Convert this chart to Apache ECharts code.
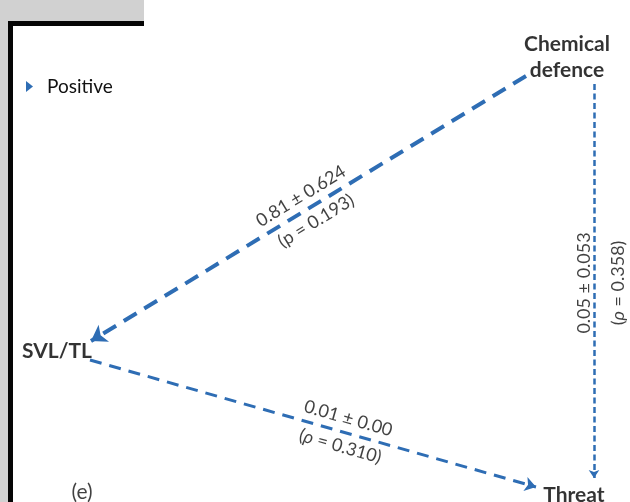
<!DOCTYPE html>
<html>
<head>
<meta charset="utf-8">
<script src="https://cdn.jsdelivr.net/npm/echarts@6/dist/echarts.min.js"></script>
<style>
html, body { margin: 0; padding: 0; background: #fff; }
#chart { width: 630px; height: 502px; }
</style>
</head>
<body>
<div id="chart"></div>
<script>
// nodes of the path diagram (text centres, data space = 630 x 502)
const nodeNames = ['Chemical\ndefence', 'SVL/TL', 'Threat'];
const nodeX = [567, 57, 574];
const nodeY = [57, 351, 495];

// arrows: start / end points
const edgeFromX = [526, 90, 594];
const edgeFromY = [76, 360, 84];
const edgeToX = [91, 536, 594];
const edgeToY = [341, 487, 478];

// path coefficients and p values
const edgeCoef = ['0.81 ± 0.624', '0.01 ± 0.00', '0.05 ± 0.053'];
const edgePSym = ['p', 'ρ', 'ρ'];
const edgeP = ['0.193', '0.310', '0.358'];
const edgeLabelAt = [0.5, 0.57, 0.505]; // fraction along each arrow
const edgeLabelShift = [0, 0, 7];        // sideways nudge, px
const edgeLabelGap = [29, 29, 34];       // line spacing of the two text rows

const panelTag = '(e)';
const panelTagPos = [82, 492];

const BLUE = '#2e6db4';
const FONT = 'Lato';
const TEXT = '#111';

// line styles per arrow, thick -> thin
const edgeWidth = [4, 3, 2.5];
const edgeDash = [[15, 9], [12, 8], [6, 3.5]];
const edgeArrow = [15, 11, 8];

const chart = echarts.init(document.getElementById('chart'), null, { renderer: 'canvas' });

const edgeData = edgeCoef.map((_, i) => ({
	coords: [[edgeFromX[i], edgeFromY[i]], [edgeToX[i], edgeToY[i]]],
	symbolSize: [0, edgeArrow[i]],
	lineStyle: { width: edgeWidth[i], type: edgeDash[i], color: BLUE, opacity: 1 },
}));

// rotation of each label follows its arrow, kept readable
const labelData = edgeCoef.map((c, i) => {
	const t = edgeLabelAt[i];
	const dx = edgeToX[i] - edgeFromX[i];
	const dy = edgeToY[i] - edgeFromY[i];
	const len = Math.hypot(dx, dy);
	const x = edgeFromX[i] + dx * t + Math.abs(dy / len) * edgeLabelShift[i];
	const y = edgeFromY[i] + dy * t;
	let rot = Math.atan2(-dy, dx) * 180 / Math.PI;
	if (rot <= -90) rot += 180;
	if (rot > 90) rot -= 180;
	const pStyle = edgePSym[i] === 'ρ' ? 'i' : 'b';
	const lh = edgeLabelGap[i];
	return {
		value: [x, y],
		label: {
			rotate: rot,
			formatter: `{a|${c}}\n{b|(}{${pStyle}|${edgePSym[i]}}{b| = ${edgeP[i]})}`,
			rich: {
				a: { fontFamily: FONT, fontSize: 18, color: TEXT, lineHeight: lh },
				b: { fontFamily: FONT, fontSize: 18, color: TEXT, lineHeight: lh },
				i: { fontFamily: FONT, fontSize: 18, color: TEXT, lineHeight: lh, fontStyle: 'italic' },
			},
		},
	};
});

chart.setOption({
	animation: false,
	backgroundColor: '#fff',
	// panel frame (grey margin + black border, partial figure crop)
	graphic: [
		{ type: 'rect', shape: { x: 0, y: 0, width: 144, height: 21 }, style: { fill: '#d1d1d1' }, z: -1 },
		{ type: 'rect', shape: { x: 0, y: 0, width: 8, height: 502 }, style: { fill: '#d1d1d1' }, z: -1 },
		{ type: 'rect', shape: { x: 8, y: 21, width: 136, height: 5 }, style: { fill: '#050505' }, z: -1 },
		{ type: 'rect', shape: { x: 8, y: 21, width: 5, height: 481 }, style: { fill: '#050505' }, z: -1 },
	],
	legend: {
		data: ['Positive'],
		left: 26,
		top: 77,
		padding: 0,
		icon: 'path://M0,0 L7,5.5 L0,11 Z',
		itemWidth: 7,
		itemHeight: 11,
		textStyle: { fontFamily: FONT, fontSize: 19, color: TEXT, padding: [0, 0, 0, 9] },
		selectedMode: false,
	},
	grid: { left: 0, right: 0, top: 0, bottom: 0 },
	xAxis: { type: 'value', min: 0, max: 630, show: false },
	yAxis: { type: 'value', min: 0, max: 502, inverse: true, show: false },
	series: [
		{
			name: 'Positive',
			type: 'lines',
			coordinateSystem: 'cartesian2d',
			color: BLUE,
			symbol: ['none', 'arrow'],
			data: edgeData,
			z: 2,
		},
		// node names
		{
			type: 'scatter',
			symbolSize: 0,
			silent: true,
			data: nodeNames.map((n, i) => ({ value: [nodeX[i], nodeY[i]], name: n })),
			label: {
				show: true,
				position: 'inside',
				formatter: (p) => p.name,
				fontFamily: FONT,
				fontSize: 21,
				fontWeight: 'bold',
				color: '#000',
				lineHeight: 26,
				align: 'center',
				verticalAlign: 'middle',
			},
			z: 3,
		},
		// coefficient labels along arrows
		{
			type: 'scatter',
			symbolSize: 0,
			silent: true,
			data: labelData,
			label: {
				show: true,
				position: 'inside',
				align: 'center',
				verticalAlign: 'middle',
			},
			z: 3,
		},
		// panel tag
		{
			type: 'scatter',
			symbolSize: 0,
			silent: true,
			data: [{ value: panelTagPos, name: panelTag }],
			label: {
				show: true,
				position: 'inside',
				formatter: (p) => p.name,
				fontFamily: FONT,
				fontSize: 21,
				color: TEXT,
			},
			z: 3,
		},
	],
});
</script>
</body>
</html>
